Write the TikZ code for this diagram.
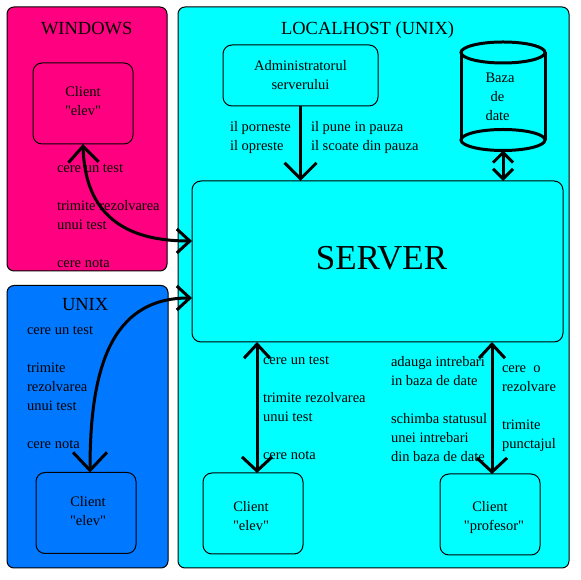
\documentclass[tikz,border=0pt]{standalone}
\usepackage{fontspec}
\setmainfont[Ligatures=TeXOff]{Liberation Serif}
\usepackage{tikz}
\usetikzlibrary{positioning,arrows.meta,shapes.geometric}
\usepackage{xcolor}
\definecolor{WinPink}{RGB}{255,0,128}
\definecolor{UnixBlue}{RGB}{0,120,255}
\definecolor{HostCyan}{RGB}{0,255,255}

\begin{document}
\begin{tikzpicture}[
  x=1pt, y=1pt, line width=1pt,
  every node/.style={outer sep=0pt},
  panel/.style={rectangle, rounded corners=7pt, draw=black, inner sep=0pt, anchor=north west},
  box/.style={rectangle, rounded corners=9pt, draw=black, inner sep=0pt, align=center,
    font=\fontsize{14.5}{19}\selectfont},
  client/.style={box, minimum width=100pt, minimum height=81pt},
  title/.style={inner sep=0pt, font=\fontsize{18.5}{19}\selectfont},
  note/.style={inner sep=0pt, align=left, font=\fontsize{14.5}{19}\selectfont},
  drum/.style={ellipse, draw=black, line width=3pt, inner sep=0pt, minimum width=84pt, minimum height=21pt},
  larr/.style={line width=3pt, {Straight Barb[length=13pt,width=26pt]}-{Straight Barb[length=13pt,width=26pt]}},
]
\useasboundingbox (0,0) rectangle (580,580);
% Panels
\node[panel, fill=WinPink, minimum width=160pt, minimum height=264pt] (windows) at (7,573) {};
\node[panel, fill=UnixBlue, below right=14.5pt and 0pt of windows.south west,
  minimum width=161pt, minimum height=282.5pt] (unixbox) {};
\node[panel, fill=HostCyan, below right=0pt and 11pt of windows.north east,
  minimum width=391pt, minimum height=561pt] (localhost) {};
% Titles
\node[title, below right=15pt and 34pt of windows.north west] (twin) {WINDOWS};
\node[title, below right=13pt and 55pt of unixbox.north west] (tunix) {UNIX};
\node[title, below right=15pt and 103pt of localhost.north west] (thost) {LOCALHOST (UNIX)};
% Clients
\node[client, below right=56pt and 26pt of windows.north west, text depth=5pt] (cwin) {Client\\"elev"};
\node[client, below right=187pt and 29pt of unixbox.north west, text depth=5pt] (cunix)
  {\hspace*{4pt}Client\\\hspace*{4pt}"elev"};
\node[client, below right=466pt and 25pt of localhost.north west, text height=35pt] (celev)
  {Client\hspace*{4pt}\\"elev"\hspace*{4pt}};
\node[client, below right=467pt and 262pt of localhost.north west, text height=35pt] (cprof)
  {Client\\\hspace*{8pt}"profesor"};
% Server and admin
\node[box, below right=174pt and 14pt of localhost.north west, minimum width=371pt, minimum height=161pt,
  font=\fontsize{35}{36}\selectfont, text height=16pt, text depth=0pt] (server) {\hspace*{8pt}SERVER};
\node[box, below right=38pt and 45pt of localhost.north west, minimum width=155pt, minimum height=61pt] (admin)
  {Administratorul\\serverului};
% Database
\node[drum, below=35pt of localhost.north, xshift=129.5pt] (dbtop) {};
\node[drum, below=66.5pt of dbtop] (dbbot) {};
\draw[line width=3pt] (dbtop.west) -- (dbbot.west);
\draw[line width=3pt] (dbtop.east) -- (dbbot.east);
\node[note, below=10pt of dbtop, xshift=-3pt] (dbtext) {Baza\\\hspace*{5pt}de\\date};
% Notes
\node[note, below right=157pt and 50pt of windows.north west] (nwin)
  {cere un test\\[19pt]trimite rezolvarea\\unui test\\[19pt]cere nota};
\node[note, below right=41pt and 20pt of unixbox.north west] (nunix)
  {cere un test\\[19pt]trimite\\rezolvarea\\unui test\\[19pt]cere nota};
\node[note, below=15pt of admin.south west, anchor=north west, xshift=7pt] (nadl) {il porneste\\il opreste};
\node[note, below=15pt of admin.south west, anchor=north west, xshift=88pt] (nadr)
  {il pune in pauza\\il scoate din pauza};
\node[note, below right=14pt and 71pt of server.south west] (nelev)
  {cere un test\\[19pt]trimite rezolvarea\\unui test\\[19pt]cere nota};
\node[note, below right=14pt and 199pt of server.south west] (nprofl)
  {adauga intrebari\\in baza de date\\[19pt]schimba statusul\\unei intrebari\\din baza de date};
\node[note, below right=24pt and 310pt of server.south west] (nprofr)
  {cere\ \ o\\rezolvare\\[19pt]trimite\\punctajul};
% Arrows
\draw[line width=3pt, -{Straight Barb[length=16pt,width=32pt]}] (admin.south) -- (admin.south |- server.north);
\draw[larr, {Straight Barb[length=10pt,width=20pt]}-{Straight Barb[length=10pt,width=20pt]}] (dbbot.south) -- (dbbot.south |- server.north);
\draw[larr, {Straight Barb[length=14pt,width=26pt]}-{Straight Barb[length=14pt,width=30pt]}] ([xshift=4pt]celev.north |- server.south) -- ([xshift=4pt]celev.north);
\draw[larr, {Straight Barb[length=14pt,width=26pt]}-{Straight Barb[length=14pt,width=30pt]}] ([xshift=2pt]cprof.north |- server.south) -- ([xshift=2pt]cprof.north);
\draw[line width=3pt, {Straight Barb[length=16pt,width=30pt]}-{Straight Barb[length=13pt,width=24pt]}]
  (cwin.south) .. controls +(2,-71) and +(-67,0) .. ([yshift=20.5pt]server.west);
\draw[line width=3pt, {Straight Barb[length=13pt,width=24pt]}-{Straight Barb[length=18pt,width=34pt]}]
  ([yshift=-36.5pt]server.west) .. controls +(-82,0) and +(0,102) .. ([xshift=4pt]cunix.north);
\end{tikzpicture}
\end{document}
